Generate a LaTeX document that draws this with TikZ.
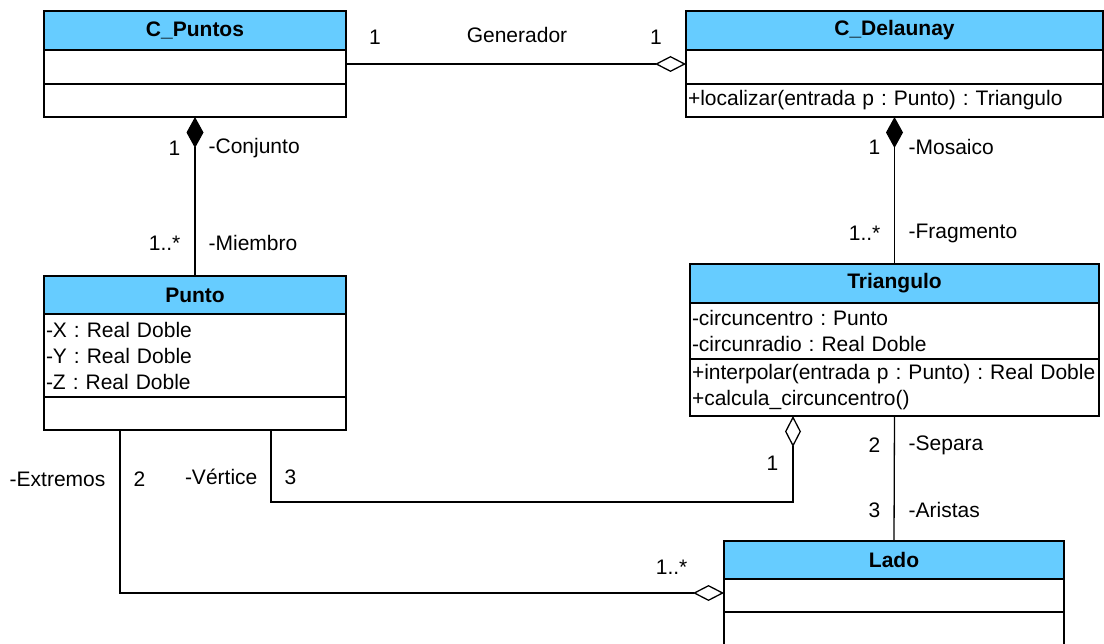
\documentclass[tikz,border=0pt]{standalone}
\usepackage{fontspec}
\setmainfont{Liberation Sans}
\usetikzlibrary{arrows.meta,positioning}
\definecolor{cabecera}{RGB}{102,204,255}
\frenchspacing

\tikzset{
  letra/.style={font=\fontsize{21}{26}\selectfont#1},
  caja/.style 2 args={draw, line width=1.8pt, outer sep=0pt, inner sep=2pt,
    minimum width=#1, minimum height=#2},
  cabeza/.style 2 args={caja={#1}{#2}, fill=cabecera, letra=\bfseries},
  lista/.style 2 args={caja={#1}{#2}, align=left},
  compos/.style={{Diamond[length=31pt,width=17pt]}-},
  agreg/.style={{Diamond[open,length=31pt,width=16pt]}-},
  etq/.style={inner sep=0pt}
}

\begin{document}
\begin{tikzpicture}[x=1pt, y=-1pt, line width=1.3pt, letra=]
  \useasboundingbox (0,0) rectangle (1104,644);

  % clases
  \node[cabeza={302pt}{39pt}] (puntosH) at (195,30.5) {C\_Puntos};
  \node[caja={302pt}{34pt}, below=0pt of puntosH] (puntosA) {};
  \node[caja={302pt}{33pt}, below=0pt of puntosA] (puntosM) {};

  \node[cabeza={417pt}{39pt}] (delaH) at (894.5,30.5) {C\_Delaunay};
  \node[caja={417pt}{34pt}, below=0pt of delaH] (delaA) {};
  \node[lista={417pt}{33pt}, text width=413pt, below=0pt of delaA] (delaM)
    {+localizar(entrada p : Punto) : Triangulo};

  \node[cabeza={302pt}{38pt}] (puntoH) at (195,295) {Punto};
  \node[lista={302pt}{83pt}, text width=298pt, below=0pt of puntoH] (puntoA)
    {-X : Real Doble\\-Y : Real Doble\\-Z : Real Doble};
  \node[caja={302pt}{33pt}, below=0pt of puntoA] (puntoM) {};

  \node[cabeza={409pt}{39pt}] (trianH) at (894.5,283.5) {Triangulo};
  \node[lista={409pt}{56pt}, text width=405pt, below=0pt of trianH] (trianA)
    {-circuncentro : Punto\\-circunradio : Real Doble};
  \node[lista={409pt}{57pt}, text width=405pt, below=0pt of trianA] (trianM)
    {+interpolar(entrada p : Punto) : Real Doble\\+calcula\_circuncentro()};

  \node[cabeza={340pt}{38pt}] (ladoH) at (894,560) {Lado};
  \node[caja={340pt}{33pt}, below=0pt of ladoH] (ladoA) {};
  \node[caja={340pt}{40pt}, below=0pt of ladoA] (ladoM) {};

  % relaciones
  \coordinate (vx) at (793,0);
  \coordinate (vert) at (271,502);
  \coordinate (ext) at (120,593);
  \coordinate (gy) at (0,64);

  \draw[agreg] (delaA.west |- gy) -- (puntosA.east |- gy);
  \draw[compos] (puntosM.south) -- (puntoH.north);
  \draw[compos] (delaM.south) -- (trianH.north);
  \draw (trianM.south) -- (ladoH.north);
  \draw[agreg] (trianM.south -| vx) |- (vert) -- (vert |- puntoM.south);
  \draw[agreg] (ladoA.west |- ext) -- (ext) -- (ext |- puntoM.south);

  % multiplicidades y roles
  \node[etq] (gen1) at (375,37) {1};
  \node[etq] (gen) at (517,35) {Generador};
  \node[etq] (gen2) at (656,37) {1};

  \node[etq, anchor=east] (conj1) at (181,148) {1};
  \node[etq, anchor=west] (conj) at (208,148) {-Conjunto};
  \node[etq, anchor=east] (miem1) at (181,243) {1..*};
  \node[etq, anchor=west] (miem) at (208,243) {-Miembro};

  \node[etq, anchor=east] (mos1) at (881,147) {1};
  \node[etq, anchor=west] (mos) at (908,147) {-Mosaico};
  \node[etq, anchor=east] (frag1) at (881,233) {1..*};
  \node[etq, anchor=west] (frag) at (908,233) {-Fragmento};

  \node[etq, anchor=east] (sep1) at (881,445) {2};
  \node[etq, anchor=west] (sep) at (908,445) {-Separa};
  \node[etq, anchor=east] (ar1) at (881,510) {3};
  \node[etq, anchor=west] (ar) at (908,510) {-Aristas};

  \node[etq, anchor=east] (ext0) at (106,479) {-Extremos};
  \node[etq, anchor=west] (ext2) at (133,479) {2};
  \node[etq, anchor=east] (vert0) at (258,477) {-Vértice};
  \node[etq, anchor=west] (vert3) at (284,477) {3};
  \node[etq, anchor=east] (vt1) at (779,463) {1};
  \node[etq, anchor=east] (ext1) at (688,567) {1..*};
\end{tikzpicture}
\end{document}
